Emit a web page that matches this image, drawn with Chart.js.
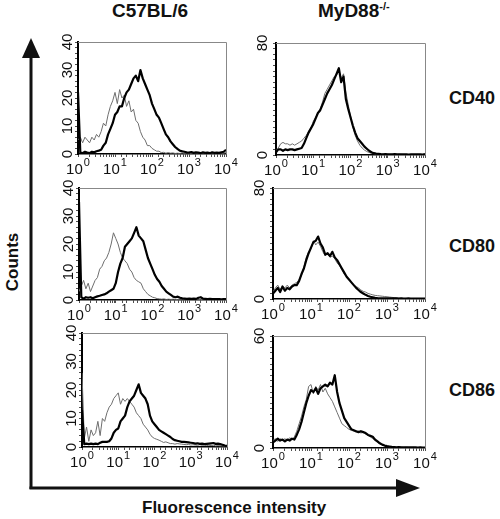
<!DOCTYPE html>
<html>
<head>
<meta charset="utf-8">
<script src="https://cdn.jsdelivr.net/npm/chart.js@4"></script>
<style>
  body { margin: 0; background: #fff; }
  #wrap { position: relative; width: 500px; height: 519px; overflow: hidden; font-family: "Liberation Sans", Arial, sans-serif; color: #111; }
  canvas { position: absolute; }
  .lbl { position: absolute; font-weight: bold; white-space: nowrap; }
  .lbl sup { font-size: 11px; vertical-align: 7px; line-height: 0; }
</style>
</head>
<body>
<div id="wrap">
  <svg width="500" height="519" style="position:absolute;left:0;top:0">
    <line x1="31" y1="55" x2="31" y2="489" stroke="#111" stroke-width="3"/>
    <polygon points="22,58 40,58 31,38" fill="#111"/>
    <line x1="29.5" y1="488" x2="398" y2="488" stroke="#111" stroke-width="3"/>
    <polygon points="396,479 396,497 420,488" fill="#111"/>
  </svg>
  <div class="lbl" style="left:112px;top:0px;font-size:19px">C57BL/6</div>
  <div class="lbl" style="left:318px;top:0px;font-size:19px">MyD88<sup>-/-</sup></div>
  <div class="lbl" style="left:449px;top:88px;font-size:18px">CD40</div>
  <div class="lbl" style="left:449px;top:236px;font-size:18px">CD80</div>
  <div class="lbl" style="left:449px;top:380px;font-size:18px">CD86</div>
  <div class="lbl" style="left:-16px;top:252px;font-size:17px;transform:rotate(-90deg)">Counts</div>
  <div class="lbl" style="left:142px;top:498px;font-size:17px">Fluorescence intensity</div>
</div>
<script>
// histogram channels, 16 per decade from 10^0 to 10^4
const decadeLabels = ['0', '1', '2', '3', '4'];

// C57BL/6 - thin grey = control, thick black = stimulated
const wtCd40Ctrl = [5, 6, 4, 6, 5, 4, 6, 5, 7, 6,
  8, 11, 10, 14, 17, 19, 22, 18, 23, 20,
  21, 17, 19, 15, 16, 12, 11, 8, 6, 5,
  3, 3, 2, 1.5, 1, 1, 0.5, 0.6, 0.3, 0.5,
  0.3, 0.4, 0.2, 0.3, 0.2, 0.4, 0.2, 0.3, 0.2, 0.2,
  0.3, 0.2, 0.2, 0.3, 0.2, 0.2, 0.3, 0.2, 0.2, 0.2,
  0.3, 0.2, 0.2, 0.3, 0.5];
const wtCd40Stim = [22, 0.5, 0.3, 0.8, 0.5, 0.3, 0.8, 0.6, 1, 1.2,
  1.5, 3, 4, 7, 9, 11, 14, 15, 17, 17,
  20, 22, 23, 25, 27, 28, 26, 30, 27, 25,
  23, 21, 18, 16, 14, 13, 11, 9, 7, 6,
  4.5, 3.5, 2.5, 1.8, 1.2, 1, 0.8, 0.6, 0.5, 0.7,
  0.4, 0.6, 0.5, 0.3, 0.6, 0.4, 0.5, 0.3, 0.6, 0.4,
  0.5, 0.4, 0.6, 0.8, 1.5];

const wtCd80Ctrl = [3, 5, 7, 4, 6, 3, 5, 7, 8, 11,
  12, 14, 15, 17, 20, 24, 22, 20, 17, 15,
  14, 13, 11, 10, 8, 7, 6.5, 6, 4, 3,
  2, 1.5, 1, 0.8, 0.5, 0.4, 0.3, 0.4, 0.2, 0.3,
  0.2, 0.3, 0.2, 0.2, 0.3, 0.2, 0.2, 0.3, 0.2, 0.2,
  0.2, 0.3, 0.2, 0.2, 0.2, 0.3, 0.2, 0.2, 0.2, 0.2,
  0.2, 0.2, 0.2, 0.2, 0.2];
const wtCd80Stim = [35, 1, 0.5, 1, 0.8, 1, 0.6, 1, 1.3, 1.5,
  1.8, 2, 2.4, 3, 3.5, 4, 6, 10, 13, 15,
  19, 20, 21, 22, 24, 26, 23, 22, 21, 18,
  15, 13, 11, 9, 7.5, 6.5, 5, 4, 3, 2.4,
  1.8, 1.2, 1, 1.2, 0.8, 0.6, 0.5, 0.4, 0.5, 0.4,
  0.5, 0.4, 0.8, 1, 0.5, 0.4, 0.3, 0.4, 0.3, 0.3,
  0.3, 0.3, 0.2, 0.3, 0.3];

const wtCd86Ctrl = [26, 3, 7, 2, 6, 4, 5, 9, 4, 10,
  9, 12, 14, 15, 17, 18, 19, 15, 17, 16,
  17, 16, 15, 14, 12, 11, 10, 8, 7, 6,
  4.5, 3.5, 3, 2.7, 2.4, 2, 1.6, 1.8, 1.5, 1.2,
  1.2, 1, 1.2, 1.1, 1, 0.9, 0.8, 0.9, 0.7, 0.8,
  0.7, 0.6, 0.8, 0.6, 0.7, 0.5, 0.6, 0.5, 0.6, 0.4,
  0.5, 0.4, 0.4, 0.3, 0.4];
const wtCd86Stim = [13, 1, 1.2, 1, 1.2, 1, 1.2, 1, 1.5, 1.8,
  1.8, 1.8, 2, 3, 5, 6, 6.5, 9, 10, 11,
  14, 16, 17, 18, 20, 22, 19, 18, 17, 15,
  11, 9, 8, 7, 6, 5.5, 5, 4.5, 4, 3.5,
  2.8, 2.4, 2.2, 2, 1.8, 1.8, 1.7, 1.6, 1.5, 1.4,
  1.2, 1.3, 1.1, 1.2, 1, 1.1, 1.2, 1.3, 1.4, 1.1,
  1.2, 1, 0.8, 0.5, 0.4];

// MyD88-/-
const koCd40Ctrl = [3, 5, 8, 9, 8, 8, 7, 8, 7, 8,
  9, 10, 12, 14, 17, 19, 24, 27, 30, 33,
  38, 44, 47, 50, 53, 56, 57, 60, 55, 58,
  45, 36, 28, 20, 14, 10, 7, 5, 3.5, 2.5,
  1.8, 1.2, 1, 0.6, 0.8, 0.5, 0.6, 0.4, 0.5, 0.4,
  0.5, 0.4, 0.3, 0.5, 0.4, 0.3, 0.4, 0.3, 0.4, 0.3,
  0.3, 0.4, 0.3, 0.3, 0.4];
const koCd40Stim = [2, 4, 4, 3, 4, 3.5, 4, 4, 3.5, 4,
  4.5, 5, 8, 12, 16, 19, 22, 26, 30, 32,
  36, 40, 44, 47, 50, 54, 58, 62, 52, 56,
  40, 33, 27, 21, 16, 12, 10, 8, 6, 4.5,
  3, 2, 1.3, 1, 0.8, 0.6, 0.5, 0.6, 0.5, 0.4,
  0.5, 0.6, 0.4, 0.5, 0.4, 0.5, 0.4, 0.3, 0.4, 0.5,
  0.4, 0.5, 0.4, 0.3, 0.6];

const koCd80Ctrl = [5, 8, 10, 7, 9, 8, 10, 8, 10, 11,
  12, 14, 17, 23, 30, 34, 36, 42, 39, 41,
  38, 34, 31, 33, 30, 31, 29, 26, 24, 21,
  18, 16, 14, 12, 10, 9, 8, 6.5, 5.5, 5,
  4, 3.5, 3, 2.6, 2.4, 2.2, 2, 1.8, 1.6, 1.4,
  1.2, 1, 0.8, 0.6, 0.5, 0.4, 0.4, 0.3, 0.3, 0.3,
  0.2, 0.3, 0.2, 0.2, 0.2];
const koCd80Stim = [4, 6, 8, 5, 9, 6, 8, 7, 9, 10,
  10, 13, 18, 22, 28, 33, 37, 41, 42, 45,
  40, 37, 32, 33, 31, 34, 30, 28, 25, 22,
  19, 16, 14, 12, 10, 8, 6.5, 5, 4, 3,
  2.2, 1.6, 1.2, 0.8, 0.6, 0.5, 0.5, 0.4, 0.5, 0.4,
  0.4, 0.5, 0.4, 0.3, 0.4, 0.3, 0.3, 0.4, 0.3, 0.3,
  0.3, 0.3, 0.2, 0.3, 0.3];

const koCd86Ctrl = [4, 5, 3.5, 5, 4, 5, 4, 5.5, 4.5, 6,
  9, 13, 17, 22, 26, 33, 34, 29, 33, 31,
  34, 30, 32, 29, 27, 25, 22, 19, 16, 13,
  12, 11, 10, 9.5, 9, 8.5, 9, 8, 8.5, 7.5,
  7, 6, 5, 4, 3, 2.2, 1.6, 1.2, 0.9, 0.7,
  0.5, 0.6, 0.4, 0.5, 0.4, 0.3, 0.4, 0.3, 0.2, 0.3,
  0.2, 0.2, 0.3, 0.2, 0.2];
const koCd86Stim = [3, 4, 5, 4, 4.5, 3.5, 4.5, 4, 5, 4.5,
  7, 10, 14, 19, 24, 28, 31, 30, 32, 29,
  32, 33, 34, 33, 35, 34, 39, 30, 24, 20,
  16, 14, 12, 10, 9.5, 9, 8.5, 9, 8.5, 8,
  7, 6.5, 6, 4.5, 3.5, 2.5, 1.8, 1.3, 1, 0.8,
  0.6, 0.5, 0.4, 0.5, 0.4, 0.3, 0.4, 0.3, 0.3, 0.3,
  0.3, 0.2, 0.3, 0.2, 0.2];

const countLabelsWt = [0, 10, 20, 30, 40];

// plot areas on the page: [left, top, right, bottom]
const panels = [
  { area: [78, 42, 226, 154], max: 40, step: 2, yLabels: countLabelsWt, ctrl: wtCd40Ctrl, stim: wtCd40Stim },
  { area: [276, 43, 425, 155], max: 80, step: 4, yLabels: [0, 80], ctrl: koCd40Ctrl, stim: koCd40Stim },
  { area: [79, 188, 226, 300], max: 40, step: 2, yLabels: countLabelsWt, ctrl: wtCd80Ctrl, stim: wtCd80Stim },
  { area: [273, 188, 425, 299], max: 80, step: 4, yLabels: [0, 80], ctrl: koCd80Ctrl, stim: koCd80Stim },
  { area: [82, 333, 227, 447], max: 40, step: 2, yLabels: countLabelsWt, ctrl: wtCd86Ctrl, stim: wtCd86Stim },
  { area: [273, 336, 425, 448], max: 60, step: 3, yLabels: [0, 60], ctrl: koCd86Ctrl, stim: koCd86Stim }
];

const FONT = '"Liberation Sans", Arial, sans-serif';
const M = { left: 40, top: 12, right: 14, bottom: 30 };

function toPoints(arr) {
  return arr.map((v, i) => ({ x: Math.pow(10, i / 16), y: v }));
}

const axisText = {
  id: 'axisText',
  beforeDatasetsDraw(chart) {
    const ctx = chart.ctx, a = chart.chartArea;
    ctx.save();
    ctx.strokeStyle = '#888';
    ctx.lineWidth = 1;
    ctx.beginPath();
    ctx.moveTo(a.left, a.top + 0.5);
    ctx.lineTo(a.right + 0.5, a.top + 0.5);
    ctx.lineTo(a.right + 0.5, a.bottom);
    ctx.stroke();
    ctx.restore();
  },
  afterDraw(chart, args, opts) {
    const ctx = chart.ctx, a = chart.chartArea;
    const xs = chart.scales.x, ys = chart.scales.y;
    ctx.save();
    ctx.fillStyle = '#111';
    decadeLabels.forEach((e, k) => {
      const px = xs.getPixelForValue(Math.pow(10, k));
      ctx.font = '15px ' + FONT;
      const bw = ctx.measureText('10').width;
      ctx.font = '11px ' + FONT;
      const sw = ctx.measureText(e).width;
      const x0 = px - (bw + sw + 1) / 2;
      const by = a.bottom + 20;
      ctx.textAlign = 'left';
      ctx.textBaseline = 'alphabetic';
      ctx.font = '15px ' + FONT;
      ctx.fillText('10', x0, by);
      ctx.font = '11px ' + FONT;
      ctx.fillText(e, x0 + bw + 1, by - 8);
    });
    ctx.font = '15px ' + FONT;
    ctx.textAlign = 'center';
    ctx.textBaseline = 'middle';
    opts.labels.forEach(v => {
      const py = ys.getPixelForValue(v);
      ctx.save();
      ctx.translate(a.left - opts.gap, py);
      ctx.rotate(-Math.PI / 2);
      ctx.fillText(String(v), 0, 0);
      ctx.restore();
    });
    ctx.restore();
  }
};

const wrap = document.getElementById('wrap');
panels.forEach(p => {
  const [l, t, r, b] = p.area;
  const cv = document.createElement('canvas');
  const w = (r - l) + M.left + M.right, h = (b - t) + M.top + M.bottom;
  cv.width = w; cv.height = h;
  cv.style.left = (l - M.left) + 'px';
  cv.style.top = (t - M.top) + 'px';
  cv.style.width = w + 'px'; cv.style.height = h + 'px';
  wrap.appendChild(cv);

  new Chart(cv, {
    type: 'line',
    data: {
      datasets: [
        { data: toPoints(p.stim), borderColor: '#000', borderWidth: 2.2 },
        { data: toPoints(p.ctrl), borderColor: '#6e6e6e', borderWidth: 1 }
      ]
    },
    options: {
      responsive: false,
      animation: false,
      devicePixelRatio: 1,
      elements: { point: { radius: 0 }, line: { tension: 0, borderJoinStyle: 'round' } },
      layout: { padding: { left: 0, top: M.top, right: M.right, bottom: 0 } },
      plugins: {
        legend: { display: false },
        tooltip: { enabled: false },
        axisText: { labels: p.yLabels, gap: p.max === 40 ? 10 : 13 }
      },
      scales: {
        x: {
          type: 'logarithmic', min: 1, max: 10000,
          ticks: { display: false, autoSkip: false },
          grid: { drawOnChartArea: false, drawTicks: true, tickLength: 3, color: '#222', lineWidth: 0.8 },
          border: { display: true, color: '#000', width: 1.5 },
          afterFit(s) { s.height = M.bottom; }
        },
        y: {
          min: 0, max: p.max,
          ticks: { display: false, stepSize: p.step, autoSkip: false, maxTicksLimit: 100 },
          grid: { drawOnChartArea: false, drawTicks: true, tickLength: 3, color: '#222', lineWidth: 0.8 },
          border: { display: true, color: '#000', width: 2 },
          afterFit(s) { s.width = M.left; }
        }
      }
    },
    plugins: [axisText]
  });
});
</script>
</body>
</html>
